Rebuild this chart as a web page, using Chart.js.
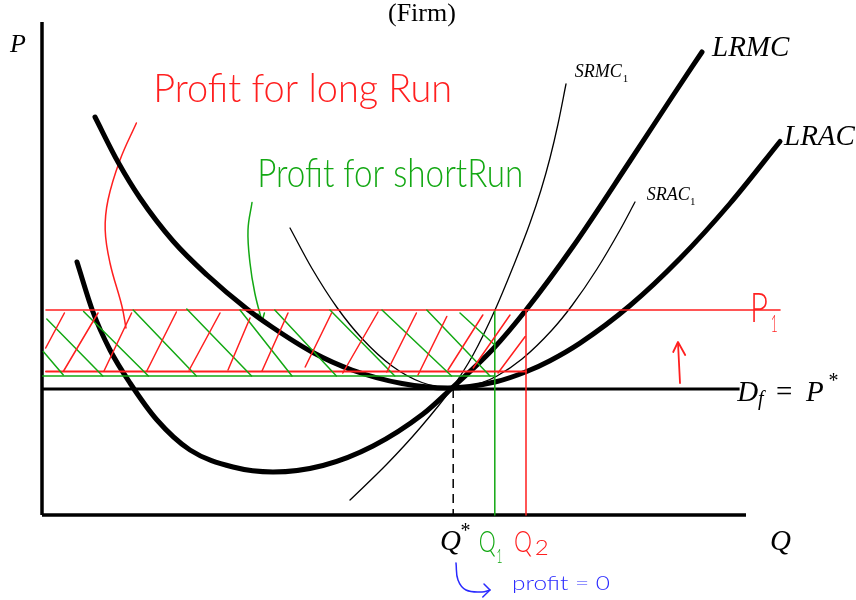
<!DOCTYPE html>
<html>
<head>
<meta charset="utf-8">
<script src="https://cdn.jsdelivr.net/npm/chart.js@4"></script>
<style>
  body { margin: 0; background: #fff; }
  canvas { display: block; }
</style>
</head>
<body>
<canvas id="chart" width="856" height="600"></canvas>
<script>
// quantity Q on x, price P on y
var qStar = 51.4, q1 = 56.6, q2 = 60.5;
var pStar = 25.2, p1 = 41, lracAtQ2 = 28.7, sracAtQ1 = 27.8;

var lrac = [[6.625,79.6],[9.5,70.6],[12.25,63.4],[16.375,54.8],[20.625,48],[25.625,41.2],[28.75,37.6],
    [33.75,32.6],[38.75,29],[45,26.3],[50.75,25.4],[56.875,26.7],[60.5,28.64],[63.5,30.86],
    [67.25,34.38],[73.5,41.9],[79.75,51.3],[86,62.3],[92.25,74.7]];
var lrmc = [[4.375,50.6],[6.375,40.6],[8.5,33],[11,26.4],[14.375,19],[18.5,13],[23.875,9.6],
    [28.875,8.6],[35.125,9.9],[41.375,13.8],[47.625,20.2],[51.25,25.4],[56.375,33.2],[60.5,41],
    [66.375,53.7],[73.5,70.8],[78.875,83.9],[82.5,92.6]];
var srac = [[31,57.4],[33.75,49.3],[36.875,41.5],[40,35.3],[43.75,29.8],[47.5,26.5],[51.25,25.4],
    [55,26.5],[56.875,27.8],[60,31.2],[63.75,37],[66.25,41.9],[69.375,49.2],[72.25,57],[74.125,62.6]];
var srmc = [[38.5,3],[43.125,10.2],[47.25,17.4],[51.25,25.4],[53.875,32],[56.625,41],[58.875,49.6],
    [61,58.4],[62.375,65],[63.5,71.4],[64.5,78.2],[65.5,86.2]];

// hand drawn hatching, each pair is one stroke
var redHatch = [[[2.8,40.4],[0.46,33.4]],[[7,40.4],[2.7,28.8]],[[11.2,40.4],[7.75,28.8]],
    [[16.8,40.6],[13.1,28.8]],[[22.25,40.4],[18.4,29]],[[26,39.4],[23.25,29]],[[30.75,40.4],[27.5,28.8]],
    [[36.2,40.4],[32.9,29.6]],[[42,40.6],[37.6,28.4]],[[46.8,40.4],[43.1,28.6]],[[50.6,39.7],[47,28]],
    [[55.1,40],[50.75,29]],[[58.5,40],[53.9,29.4]],[[60.4,35.7],[57,28.4]]];
var greenHatch = [[[0.16,32.7],[2.66,28]],[[0.6,39.2],[7.6,27.8]],[[5.2,40.7],[13.3,27.8]],
    [[11.4,41],[19.3,27.8]],[[18.1,41.2],[26.2,27.8]],[[24.75,41],[31.25,27.8]],[[29.1,41],[36.8,27.8]],
    [[36,41],[44.1,27.8]],[[42.5,41],[51.2,27.8]],[[48.1,41],[56,27.8]],[[52.25,40.4],[56.6,34]]];

var redLeader = [[11.8,78.4],[9.75,71],[8.25,63],[7.9,57],[8.5,50.4],[10,41.7],[10.5,37.4]];
var greenLeader = [[26.25,62.5],[25.75,57],[26,50.4],[26.6,44.4],[27.5,38.7]];
var greenHead = [[27,40.2],[27.5,38.7],[27.8,40.4]];
var upArrow = [[79.75,26.4],[79.5,34.4]];
var upHead = [[78.9,32.6],[79.5,34.6],[80.4,32]];
var blueHook = [[51.75,-9.6],[52,-13],[53,-15],[55,-15.4],[56,-15]];
var blueHead = [[55.25,-13.8],[56,-15],[55.1,-16.4]];

var RED = '#ff1f1f', GREEN = '#13a813', BLUE = '#2a2aff';

function pts(a) {
    return a.map(function(p) { return {x: p[0], y: p[1]}; });
}
function line(a, color, width, extra) {
    var ds = {data: pts(a), showLine: true, borderColor: color, borderWidth: width,
        pointRadius: 0, fill: false, borderCapStyle: 'round', borderJoinStyle: 'round'};
    for (var k in extra) ds[k] = extra[k];
    return ds;
}

var datasets = [];
redHatch.forEach(function(s) { datasets.push(line(s, RED, 1.5)); });
greenHatch.forEach(function(s) { datasets.push(line(s, GREEN, 1.5)); });
datasets.push(line([[0.5,p1],[92.25,p1]], RED, 1.6));
datasets.push(line([[0.5,lracAtQ2],[q2,lracAtQ2]], RED, 2));
datasets.push(line([[0.1,sracAtQ1],[q1,sracAtQ1]], GREEN, 1.6));
datasets.push(line([[q1,p1],[q1,0]], GREEN, 1.5));
datasets.push(line([[q2,p1],[q2,0]], RED, 1.5));
datasets.push(line([[qStar,pStar],[qStar,0]], '#000', 1.5, {borderDash: [9, 6], borderCapStyle: 'butt'}));
datasets.push(line([[0,pStar],[87.2,pStar]], '#000', 3.2, {borderCapStyle: 'butt'}));
datasets.push(line([[0,0],[0,98.6]], '#000', 3.5, {borderCapStyle: 'butt'}));
datasets.push(line([[0,0],[88,0]], '#000', 3.5, {borderCapStyle: 'butt'}));
datasets.push(line(lrac, '#000', 5, {cubicInterpolationMode: 'monotone'}));
datasets.push(line(lrmc, '#000', 5, {cubicInterpolationMode: 'monotone'}));
datasets.push(line(srac, '#000', 1.3, {cubicInterpolationMode: 'monotone'}));
datasets.push(line(srmc, '#000', 1.3, {cubicInterpolationMode: 'monotone'}));
datasets.push(line(redLeader, RED, 1.5, {tension: 0.4}));
datasets.push(line(greenLeader, GREEN, 1.5, {tension: 0.4}));
datasets.push(line(greenHead, GREEN, 1.5));
datasets.push(line(upArrow, RED, 1.8));
datasets.push(line(upHead, RED, 1.8));
datasets.push(line(blueHook, BLUE, 1.5, {tension: 0.4}));
datasets.push(line(blueHead, BLUE, 1.5));

// text labels: [text, Q, P, font, color, fitWidth]
var SERIF = '"Liberation Serif", "DejaVu Serif", serif';
var HAND = 'Lato, "Open Sans", sans-serif';
var labels = [
    ['(Firm)', 43.25, 98.8, '26px ' + SERIF, '#000'],
    ['P', -4, 92.6, 'italic 26px ' + SERIF, '#000'],
    ['LRMC', 83.75, 91.8, 'italic 29px ' + SERIF, '#000'],
    ['LRAC', 92.75, 74, 'italic 29px ' + SERIF, '#000'],
    ['SRMC', 66.6, 87.6, 'italic 18px ' + SERIF, '#000'],
    ['1', 72.6, 86.6, '11px ' + SERIF, '#000'],
    ['SRAC', 75.6, 63, 'italic 18px ' + SERIF, '#000'],
    ['1', 81, 62, '11px ' + SERIF, '#000'],
    ['D', 86.9, 22.8, 'italic 29px ' + SERIF, '#000'],
    ['f', 89.5, 22, 'italic 20px ' + SERIF, '#000'],
    ['=', 91.75, 22.8, '29px ' + SERIF, '#000'],
    ['P', 95.5, 22.8, 'italic 29px ' + SERIF, '#000'],
    ['*', 98.3, 25.6, '20px ' + SERIF, '#000'],
    ['Q', 49.75, -7, 'italic 29px ' + SERIF, '#000'],
    ['*', 52.3, -4.4, '20px ' + SERIF, '#000'],
    ['Q', 91, -7, 'italic 29px ' + SERIF, '#000'],
    ['P', 88.5, 38.6, '300 42px ' + HAND, RED, 18],
    ['1', 91.1, 36.6, '300 24px ' + HAND, RED, 7],
    ['Q', 54.6, -7.4, '300 30px ' + HAND, GREEN, 17],
    ['1', 56.8, -9.6, '300 20px ' + HAND, GREEN, 6],
    ['Q', 59, -7.4, '300 30px ' + HAND, RED, 18],
    ['2', 61.6, -8, '300 22px ' + HAND, RED, 14],
    ['Profit for long Run', 13.9, 82.6, '300 40px ' + HAND, RED, 299],
    ['Profit for shortRun', 26.9, 65.6, '300 40px ' + HAND, GREEN, 266],
    ['profit = 0', 58.75, -15, '300 20px ' + HAND, BLUE, 98]
];

var textPlugin = {
    id: 'texts',
    afterDatasetsDraw: function(chart) {
        var ctx = chart.ctx, sx = chart.scales.x, sy = chart.scales.y;
        labels.forEach(function(l) {
            var x = sx.getPixelForValue(l[1]), y = sy.getPixelForValue(l[2]);
            ctx.save();
            ctx.font = l[3];
            ctx.fillStyle = l[4];
            ctx.textBaseline = 'alphabetic';
            ctx.textAlign = 'left';
            ctx.translate(x, y);
            if (l[5]) {
                var w = ctx.measureText(l[0]).width;
                ctx.scale(l[5] / w, 1);
            }
            ctx.fillText(l[0], 0, 0);
            ctx.restore();
        });
    }
};

var ctx = document.getElementById('chart').getContext('2d');
var mychart = new Chart(ctx, {
    type: 'scatter',
    data: {datasets: datasets},
    options: {
        responsive: false,
        animation: false,
        devicePixelRatio: 1,
        layout: {padding: 0},
        plugins: {legend: {display: false}, tooltip: {enabled: false}},
        scales: {
            x: {type: 'linear', min: -5.25, max: 101.75, display: false},
            y: {type: 'linear', min: -17, max: 103, display: false}
        }
    },
    plugins: [textPlugin]
});
</script>
</body>
</html>
